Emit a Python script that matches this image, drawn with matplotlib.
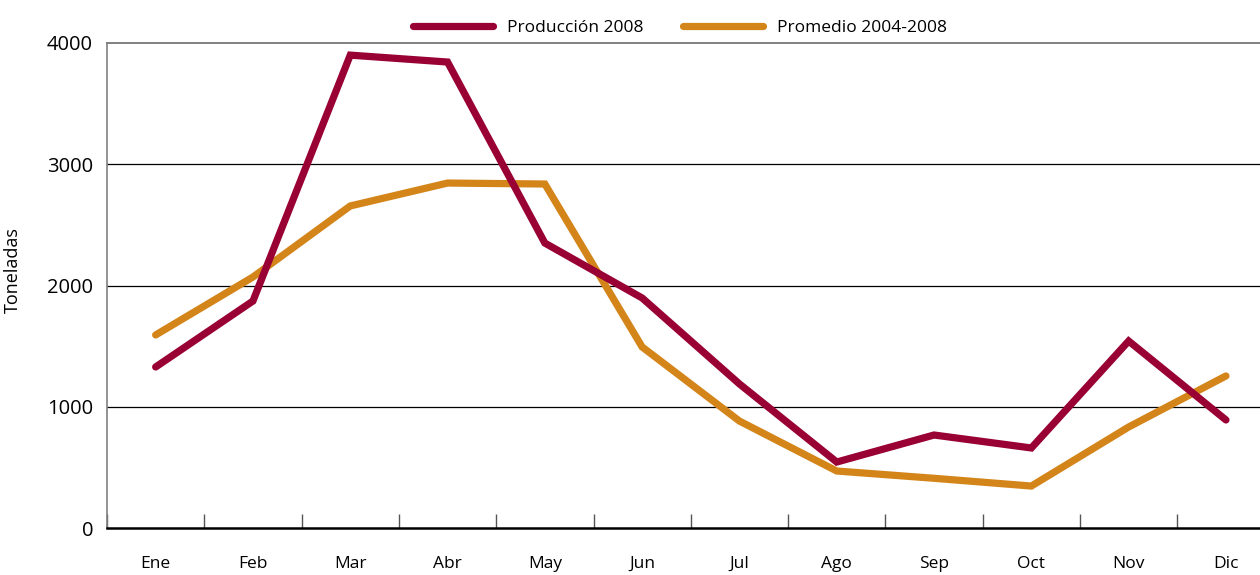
import matplotlib
matplotlib.use("Agg")
import matplotlib.pyplot as plt
import numpy as np

months = ["Ene", "Feb", "Mar", "Abr", "May", "Jun", "Jul", "Ago", "Sep", "Oct", "Nov", "Dic"]
produccion_2008 = [1328, 1872, 3900, 3843, 2350, 1897, 1188, 544, 767, 660, 1542, 891]
promedio_2004_2008 = [1592, 2070, 2656, 2845, 2837, 1493, 882, 470, 410, 346, 833, 1254]
yticks = [0, 1000, 2000, 3000, 4000]

plt.rcParams['font.family'] = ['Open Sans', 'DejaVu Sans']

fig = plt.figure(figsize=(12.6, 5.75), dpi=100)
ax = fig.add_axes([107/1260, 47/575, 1 - 107/1260, 485/575])

x = np.arange(len(months))
red = "#990033"
orange = "#D4851A"
ax.plot(x, produccion_2008, color=red, lw=5.2, solid_capstyle='round', solid_joinstyle='miter',
        label="Producción 2008", zorder=3)
ax.plot(x, promedio_2004_2008, color=orange, lw=5.2, solid_capstyle='round', solid_joinstyle='miter',
        label="Promedio 2004-2008", zorder=2)

ax.set_xlim(-0.5, (1260 - 107) / 97.3 - 0.5)
ax.set_ylim(0, 4000)
ax.set_yticks(yticks)
ax.set_yticklabels([str(v) for v in yticks], fontsize=14.5)
ax.tick_params(axis='y', length=0, pad=10)

ax.set_xticks(x)
ax.set_xticklabels(months, fontsize=12.5)
ax.tick_params(axis='x', which='major', length=0, pad=20)
ax.set_xticks(np.arange(len(months)) - 0.5, minor=True)
ax.tick_params(axis='x', which='minor', direction='in', length=10, width=1, color="#555555")

for v in [1000, 2000, 3000]:
    ax.axhline(v, color='black', lw=0.9, zorder=1)

ax.spines['right'].set_visible(False)
ax.spines['top'].set_color('#808080')
ax.spines['top'].set_linewidth(1.4)
ax.spines['left'].set_color('#808080')
ax.spines['left'].set_linewidth(1.2)
ax.spines['bottom'].set_color('black')
ax.spines['bottom'].set_linewidth(1.8)

ax.set_ylabel("Toneladas", fontsize=13)
ax.yaxis.set_label_coords(-0.074, 0.532)

leg = ax.legend(loc='lower center', bbox_to_anchor=(0.497, 1.0), ncol=2, frameon=False,
                fontsize=12.5, handlelength=4.6, columnspacing=2.3, handletextpad=0.8,
                borderaxespad=0.0)

fig.savefig("out.png", dpi=100)
